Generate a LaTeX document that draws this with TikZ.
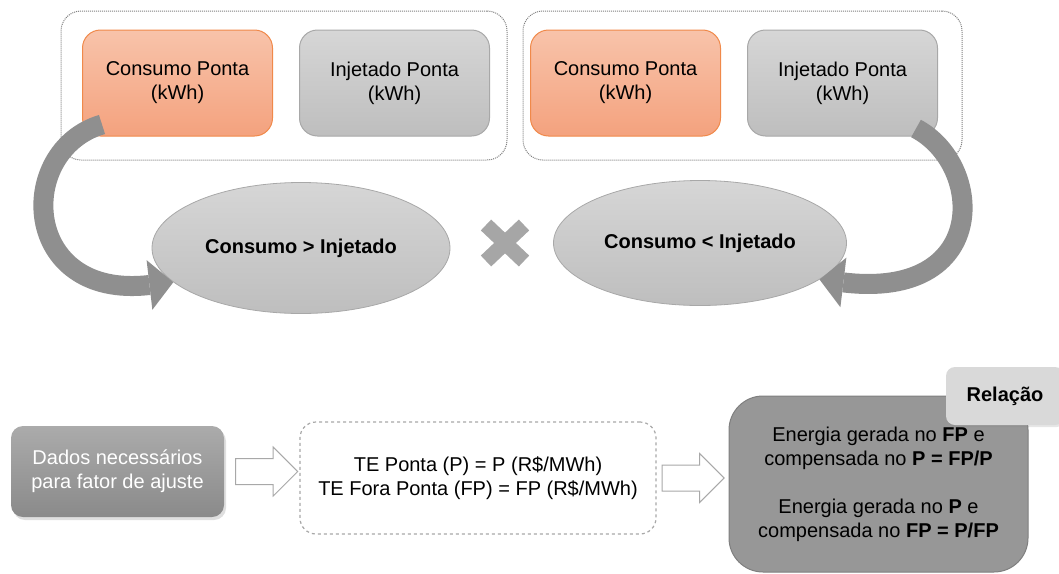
\documentclass[tikz,border=0pt]{standalone}
\usepackage{fontspec}
\setmainfont{Liberation Sans}
\usetikzlibrary{positioning,arrows.meta,shapes.geometric,shapes.arrows,shadows}
\definecolor{orangetop}{HTML}{F8C3AA}
\definecolor{orangebot}{HTML}{F4A27E}
\definecolor{orangeline}{HTML}{F0894A}
\definecolor{greytop}{HTML}{D6D6D6}
\definecolor{greybot}{HTML}{BEBEBE}
\definecolor{greyline}{HTML}{A8A8A8}
\definecolor{dottedgrey}{HTML}{7F7F7F}
\definecolor{arrowgrey}{HTML}{8F8F8F}
\definecolor{crossgrey}{HTML}{A6A6A6}
\definecolor{datatop}{HTML}{ABABAB}
\definecolor{databot}{HTML}{8A8A8A}
\definecolor{relfill}{HTML}{979797}
\definecolor{relline}{HTML}{7F7F7F}
\definecolor{tabfill}{HTML}{D9D9D9}

\begin{document}
\begin{tikzpicture}[x=1pt, y=-1pt, >={Triangle[length=24pt,width=50pt,line width=0pt]},
                every node/.style={
                        font=\fontsize{20}{24}\selectfont,
                        align=center,
                        inner sep=0pt},
                groupbox/.style={draw=dottedgrey, densely dotted, line width=1pt, rounded corners=20pt},
                orangebox/.style={draw=orangeline, line width=1pt, rounded corners=18pt,
                        top color=orangetop, bottom color=orangebot,
                        minimum width=190pt, minimum height=106pt},
                greybox/.style={draw=greyline, line width=1pt, rounded corners=18pt,
                        top color=greytop, bottom color=greybot,
                        minimum width=190pt, minimum height=106pt},
                caseellipse/.style={ellipse, draw=greyline, line width=0.8pt,
                        top color=greytop, bottom color=greybot,
                        font=\fontsize{20}{24}\selectfont\bfseries},
                bigarrow/.style={->, draw=arrowgrey, line width=20pt},
                hollowarrow/.style={single arrow, draw=greyline, fill=white, line width=1pt,
                        inner xsep=0pt, inner ysep=12.5pt,
                        single arrow head extend=11.5pt, minimum height=62pt}]

                \useasboundingbox (0,0) rectangle (1059,573);

                \node[groupbox, minimum width=446pt, minimum height=149pt] (G1) at (284,85.5) {};
                \node[groupbox, minimum width=439pt, minimum height=149pt] (G2) at (742.5,85.5) {};

                \node[orangebox] (C1) at (177.5,83) {Consumo Ponta\\(kWh)};
                \node[greybox] (I1) at (394.5,83) {Injetado Ponta\\(kWh)};
                \node[orangebox] (C2) at (625.5,83) {Consumo Ponta\\(kWh)};
                \node[greybox] (I2) at (842.5,83) {Injetado Ponta\\(kWh)};

                \node[caseellipse, minimum width=298pt, minimum height=131pt] (E1) at (301,248) {Consumo > Injetado};
                \node[caseellipse, minimum width=293pt, minimum height=125pt] (E2) at (700,243) {Consumo < Injetado};

                \draw[crossgrey, line width=15pt] (486,225) -- (524,261);
                \draw[crossgrey, line width=15pt] (486,261) -- (524,225);

                \draw[bigarrow] ([shift={(20,-12)}]C1.south west) .. controls (15,150) and (20,300) .. (E1.195);
                \draw[bigarrow] ([shift={(-22,-8)}]I2.south east) .. controls (985,165) and (990,300) .. (E2.343);

                \node[rounded corners=12pt, top color=datatop, bottom color=databot,
                      minimum width=213pt, minimum height=91pt, text=white,
                      drop shadow={opacity=.25, shadow xshift=2pt, shadow yshift=-3pt}]
                      (D) at (117.5,471.5) {Dados necessários\\para fator de ajuste};

                \node[draw=greyline, dashed, line width=1.2pt, rounded corners=16pt, fill=white,
                      minimum width=356pt, minimum height=112pt]
                      (T) at (478,478) {TE Ponta (P) = P (R\$/MWh)\\TE Fora Ponta (FP) = FP (R\$/MWh)};

                \node[draw=relline, line width=1pt, fill=relfill, rounded corners=34pt,
                      minimum width=299pt, minimum height=176pt]
                      (R) at (878.5,484) {Energia gerada no \textbf{FP} e\\compensada no \textbf{P = FP/P}\\[24pt]
                      Energia gerada no \textbf{P} e\\compensada no \textbf{FP = P/FP}};

                \node[fill=tabfill, rounded corners=9pt, minimum width=118pt, minimum height=58pt,
                      font=\fontsize{20}{24}\selectfont\bfseries,
                      drop shadow={opacity=.2, shadow xshift=1.5pt, shadow yshift=-2pt}]
                      (L) at (1005,396) {Relação};

                \node[hollowarrow, right=11pt of D] (A1) {};
                \node[hollowarrow, right=5pt of T] (A2) {};
            \end{tikzpicture}
\end{document}
